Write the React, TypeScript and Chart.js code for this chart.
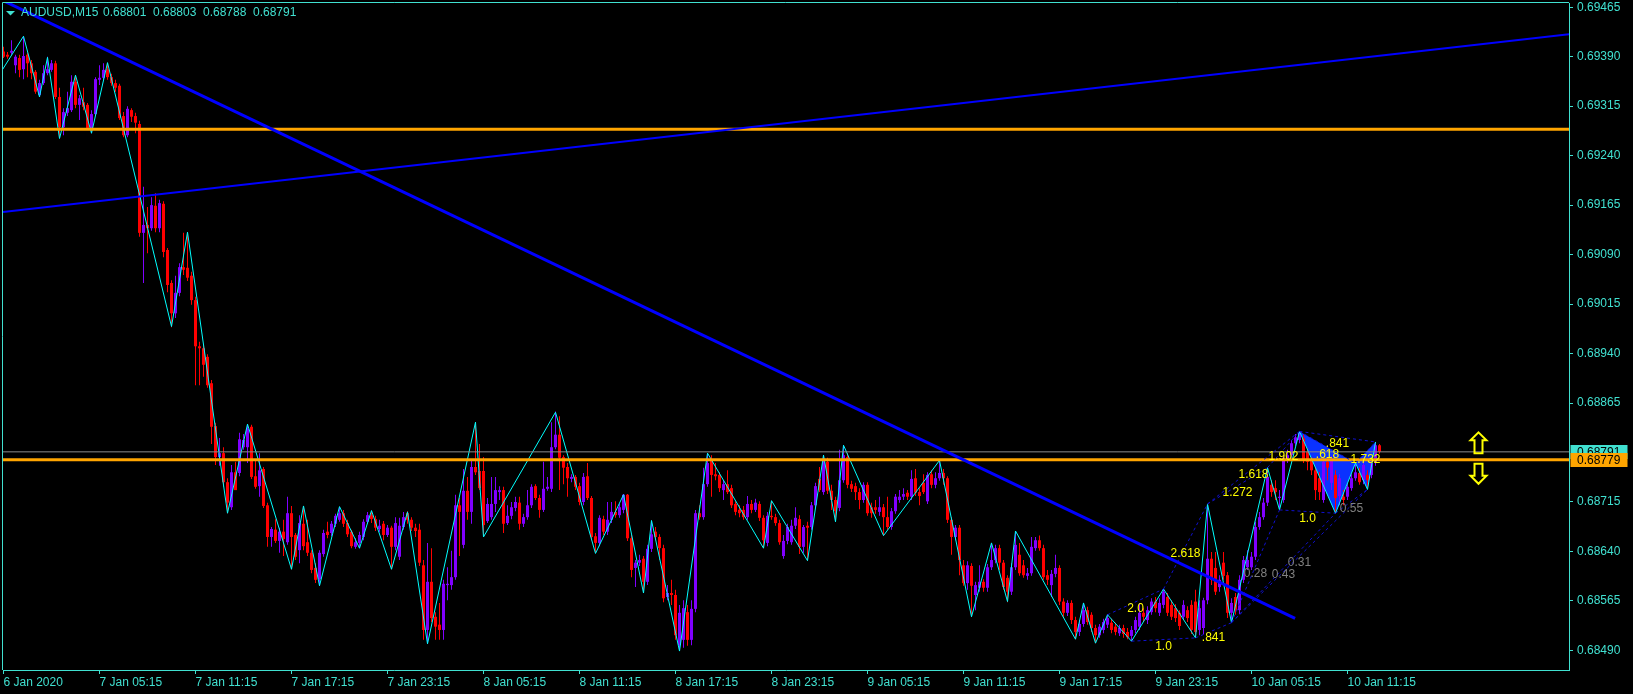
import React, { useEffect, useRef } from 'react';
import { Chart, registerables } from 'chart.js';

Chart.register(...registerables);

// ---------- data (prices in points: value / 100000) ----------
const PRICE_UNIT = 100000;
const symbolLabel = 'AUDUSD,M15';

const openP = [
  69398,69393,69396,69377,69388,69371,69393,69380,69367,69332,
  69350,69365,69370,69380,69329,69283,69305,69309,69352,69317,
  69321,69317,69279,69303,69355,69358,69371,69359,69350,69346,
  69300,69271,69309,69300,69288,69123,69135,69130,69164,69130,
  69167,69097,69047,69001,69032,69071,69070,69058,69021,68951,
  68948,68935,68895,68830,68783,68789,68745,68707,68760,68759,
  68798,68798,68829,68754,68739,68765,68710,68662,68673,68656,
  68670,68654,68698,68665,68642,68682,68654,68638,68615,68598,
  68636,68670,68668,68682,68688,68698,68683,68670,68647,68653,
  68662,68685,68695,68689,68674,68682,68665,68676,68647,68632,
  68677,68698,68688,68676,68673,68619,68521,68594,68541,68529,
  68521,68589,68589,68601,68710,68650,68732,68700,68768,68762,
  68762,68686,68692,68712,68730,68733,68683,68694,68706,68714,
  68682,68692,68710,68739,68721,68703,68735,68735,68798,68817,
  68783,68768,68750,68753,68739,68715,68754,68721,68663,68653,
  68689,68670,68688,68700,68695,68703,68726,68660,68615,68623,
  68629,68594,68644,68670,68662,68645,68571,68577,68574,68498,
  68506,68548,68506,68553,68698,68692,68742,68779,68757,68756,
  68733,68742,68736,68712,68703,68703,68692,68712,68703,68712,
  68691,68653,68694,68692,68683,68633,68656,68654,68679,68689,
  68647,68679,68677,68710,68750,68730,68776,68732,68718,68706,
  68748,68783,68742,68739,68730,68718,68741,68707,68707,68700,
  68707,68692,68677,68701,68718,68723,68729,68723,68751,68730,
  68744,68716,68757,68741,68751,68759,68751,68688,68662,68676,
  68619,68592,68618,68574,68585,68594,68585,68616,68627,68645,
  68623,68600,68579,68616,68635,68619,68603,68607,68645,68657,
  68645,68604,68589,68606,68615,68564,68547,68562,68536,68518,
  68530,68551,68544,68524,68513,68521,68529,68532,68526,68516,
  68524,68518,68512,68521,68526,68547,68536,68548,68564,68547,
  68559,68571,68559,68554,68547,68541,68551,68559,68564,68521,
  68524,68566,68629,68615,68586,68623,68604,68547,68571,68551,
  68597,68616,68616,68632,68677,68692,68714,68741,68736,68721,
  68718,68779,68786,68804,68809,68812,68791,68779,68763,68751,
  68718,68776,68744,68756,68724,68723,68723,68736,68751,68759,
  68748,68756,68756,68774,68801
];
const highP = [
  69405,69397,69415,69393,69393,69421,69396,69385,69370,69355,
  69377,69390,69385,69384,69343,69312,69337,69362,69362,69332,
  69343,69320,69309,69359,69377,69380,69380,69364,69355,69349,
  69306,69315,69312,69305,69293,69193,69162,69177,69183,69173,
  69171,69100,69051,69058,69077,69123,69124,69064,69026,68958,
  68953,68939,68900,68835,68812,68798,68751,68771,68776,68820,
  68818,68833,68832,68779,68789,68768,68714,68677,68689,68676,
  68688,68723,68709,68668,68695,68709,68688,68642,68622,68642,
  68673,68685,68686,68697,68707,68703,68688,68673,68660,68670,
  68689,68700,68701,68694,68688,68686,68680,68679,68692,68691,
  68700,68701,68692,68682,68682,68627,68653,68645,68548,68562,
  68597,68616,68641,68726,68721,68765,68753,68779,68836,68803,
  68783,68721,68753,68753,68739,68738,68710,68715,68723,68723,
  68697,68733,68742,68742,68726,68776,68753,68836,68852,68845,
  68786,68774,68757,68756,68744,68759,68774,68724,68668,68695,
  68694,68715,68715,68716,68712,68727,68727,68665,68627,68635,
  68633,68650,68686,68677,68666,68650,68589,68597,68582,68559,
  68566,68559,68566,68703,68710,68767,68789,68786,68774,68760,
  68748,68763,68741,68716,68710,68709,68724,68718,68720,68716,
  68695,68700,68716,68697,68688,68665,68682,68688,68707,68695,
  68680,68685,68715,68744,68768,68786,68782,68741,68723,68794,
  68801,68789,68747,68744,68736,68745,68745,68714,68718,68723,
  68712,68723,68706,68727,68733,68736,68733,68763,68765,68736,
  68757,68760,68763,68760,68777,68765,68754,68692,68680,68680,
  68627,68625,68622,68594,68619,68598,68621,68653,68650,68650,
  68627,68604,68622,68671,68653,68627,68615,68662,68662,68664,
  68650,68612,68612,68635,68619,68569,68566,68566,68541,68536,
  68562,68556,68548,68529,68530,68538,68545,68538,68532,68529,
  68529,68524,68527,68541,68562,68554,68557,68569,68571,68569,
  68583,68577,68566,68560,68551,68566,68557,68566,68582,68566,
  68570,68712,68639,68639,68604,68639,68609,68569,68577,68604,
  68633,68642,68639,68685,68700,68721,68767,68748,68748,68733,
  68786,68794,68809,68818,68821,68817,68797,68783,68768,68760,
  68782,68782,68785,68763,68757,68733,68744,68757,68774,68767,
  68777,68763,68779,68806,68803
];
const lowP = [
  69388,69387,69393,69365,69359,69356,69359,69356,69334,69329,
  69347,69362,69367,69326,69267,69271,69300,69306,69312,69294,
  69309,69279,69274,69300,69347,69355,69355,69346,69337,69294,
  69268,69268,69291,69274,69117,69047,69092,69126,69124,69124,
  69086,69033,68980,68994,69027,69059,69050,69014,68892,68892,
  68905,68888,68803,68771,68770,68738,68698,68703,68733,68754,
  68794,68774,68750,68735,68723,68706,68647,68647,68653,68638,
  68633,68650,68613,68627,68622,68642,68633,68607,68592,68588,
  68632,68660,68663,68677,68685,68677,68662,68645,68644,68645,
  68657,68682,68683,68671,68670,68657,68662,68613,68642,68627,
  68673,68682,68671,68662,68618,68506,68500,68533,68506,68506,
  68506,68566,68582,68597,68633,68645,68688,68682,68756,68733,
  68662,68683,68688,68700,68718,68668,68680,68689,68701,68673,
  68677,68688,68706,68718,68691,68700,68732,68730,68795,68733,
  68742,68723,68745,68733,68710,68710,68718,68657,68638,68648,
  68665,68665,68683,68691,68691,68698,68656,68601,68586,68618,
  68577,68589,68639,68657,68627,68563,68566,68559,68506,68489,
  68494,68497,68498,68548,68688,68688,68738,68723,68748,68730,
  68718,68727,68706,68695,68692,68688,68688,68698,68700,68686,
  68645,68648,68688,68679,68650,68629,68651,68650,68674,68636,
  68638,68626,68673,68706,68730,68726,68727,68703,68685,68701,
  68744,68736,68730,68718,68704,68714,68694,68691,68697,68694,
  68664,68673,68673,68697,68714,68718,68718,68718,68724,68710,
  68727,68712,68736,68736,68747,68741,68683,68635,68657,68604,
  68588,68582,68541,68551,68579,68579,68579,68612,68622,68612,
  68582,68563,68574,68612,68603,68600,68597,68603,68641,68641,
  68597,68589,68571,68601,68559,68541,68542,68530,68507,68512,
  68526,68529,68518,68501,68509,68516,68524,68516,68513,68512,
  68509,68507,68504,68516,68521,68533,68530,68544,68548,68542,
  68554,68542,68536,68533,68521,68536,68533,68515,68509,68513,
  68515,68560,68589,68574,68579,68597,68539,68532,68544,68545,
  68592,68612,68612,68627,68673,68688,68709,68723,68718,68703,
  68714,68774,68782,68800,68804,68774,68763,68756,68718,68718,
  68714,68748,68733,68698,68710,68710,68718,68732,68747,68741,
  68742,68735,68751,68770,68788
];
const closeP = [
  69390,69390,69399,69390,69370,69391,69380,69365,69337,69350,
  69365,69371,69380,69329,69283,69306,69312,69352,69317,69327,
  69314,69282,69303,69356,69358,69370,69359,69350,69343,69297,
  69271,69311,69299,69290,69123,69135,69130,69165,69130,69168,
  69094,69044,69001,69032,69071,69067,69055,69021,68951,68948,
  68923,68892,68829,68783,68789,68745,68714,68760,68733,68810,
  68809,68826,68753,68738,68763,68709,68662,68674,68656,68670,
  68659,68698,68662,68632,68683,68648,68638,68612,68597,68638,
  68668,68665,68682,68694,68698,68682,68666,68648,68654,68665,
  68685,68695,68689,68676,68679,68665,68676,68647,68683,68679,
  68692,68688,68676,68671,68623,68521,68594,68539,68526,68521,
  68591,68591,68601,68710,68700,68732,68700,68768,68760,68736,
  68680,68712,68712,68733,68733,68682,68694,68707,68715,68682,
  68692,68710,68738,68721,68703,68735,68738,68798,68817,68782,
  68767,68751,68753,68738,68715,68753,68721,68662,68653,68691,
  68670,68688,68700,68695,68707,68726,68660,68612,68623,68627,
  68594,68644,68666,68662,68645,68569,68577,68574,68513,68547,
  68554,68506,68553,68698,68692,68742,68774,68756,68754,68736,
  68742,68730,68710,68700,68698,68692,68712,68703,68714,68691,
  68657,68694,68692,68683,68654,68656,68677,68679,68691,68647,
  68677,68676,68710,68739,68733,68776,68732,68718,68701,68748,
  68786,68741,68735,68730,68718,68741,68698,68698,68703,68707,
  68692,68677,68701,68723,68723,68727,68723,68750,68729,68724,
  68730,68756,68741,68751,68759,68751,68688,68662,68676,68627,
  68592,68619,68588,68589,68594,68585,68616,68627,68645,68623,
  68586,68579,68616,68650,68607,68604,68607,68647,68657,68645,
  68601,68597,68606,68615,68564,68547,68562,68536,68518,68530,
  68551,68533,68524,68513,68526,68533,68539,68521,68518,68524,
  68515,68510,68521,68536,68547,68541,68551,68564,68554,68562,
  68579,68547,68541,68539,68527,68559,68539,68521,68518,68554,
  68566,68629,68597,68579,68597,68603,68547,68562,68551,68597,
  68627,68627,68632,68677,68692,68714,68753,68730,68730,68723,
  68782,68786,68804,68813,68820,68779,68776,68763,68733,68730,
  68776,68767,68779,68721,68751,68718,68738,68751,68760,68745,
  68771,68748,68774,68801,68791
];

// ZigZag pivots (bar index, price in points)
const zzBars = [-3,5,9,11,14,18,22,26,42,46,56,61,72,75,79,84,89,92,97,101,106,118,120,138,148,155,160,162,169,176,190,192,201,205,208,210,220,234,242,247,251,253,268,270,273,276,282,290,298,301,307,316,319,324,333,338,341,343];
const zzPrices = [69344,69421,69329,69389,69266,69362,69274,69381,68981,69124,68698,68833,68613,68709,68588,68708,68645,68702,68613,68700,68500,68836,68662,68851,68637,68726,68577,68687,68489,68789,68645,68717,68626,68786,68685,68801,68664,68778,68541,68653,68564,68671,68507,68562,68501,68544,68504,68583,68509,68712,68532,68767,68703,68822,68698,68774,68734,68806];

// Pattern ratio lines between pivots
const patFrom = [276,282,290,298,301,301,307,307,307,316,319,324,324,333,338];
const patTo = [290,298,301,307,316,324,319,333,341,324,333,338,343,341,343];
const patText = ['2.0','1.0','2.618','.841','1.272','1.618','0.28','0.43','0.31','1.902','1.0','.618','.841','0.55','1.732'];
const patMuted = [false,false,false,false,false,false,true,true,true,false,false,false,false,true,false];
const triangleA = [324,333,338];
const triangleB = [338,341,343];

// Axis ticks
const xTickBars = [0,24,48,72,96,120,144,168,192,216,240,264,288,312,336];
const xTickLabels = ['6 Jan 2020','7 Jan 05:15','7 Jan 11:15','7 Jan 17:15','7 Jan 23:15','8 Jan 05:15','8 Jan 11:15','8 Jan 17:15','8 Jan 23:15','9 Jan 05:15','9 Jan 11:15','9 Jan 17:15','9 Jan 23:15','10 Jan 05:15','10 Jan 11:15'];
const yTickValues = [0.69465,0.6939,0.69315,0.6924,0.69165,0.6909,0.69015,0.6894,0.68865,0.68715,0.6864,0.68565,0.6849];

// Horizontal levels and trend lines
const levelPrices = [0.6928, 0.68779];
const trendDownBars = [-3, 322.9];
const trendDownPrices = [0.694834, 0.685387];
const trendUpBars = [-0.125, 391.375];
const trendUpPrices = [0.691546, 0.69424];
const arrowBar = 368.75;

// Scale ranges
const X_MIN = -0.125;
const X_MAX = 391.375;
const Y_MIN = 0.684603;
const Y_MAX = 0.694714;

// ---------- styles ----------
const TXT = '#40e0d0';
const BULL = '#8000ff';
const BEAR = '#ff0000';
const ZZ = '#00ffff';
const TREND = '#0000ff';
const LEVEL = '#ffa500';
const BID = '#8c8c8c';
const PAT = '#1010d0';
const FILL = 'rgb(10,50,255)';
const YEL = '#ffff00';
const MUTED = '#808080';
const FONT = '"Liberation Sans", Arial, sans-serif';

export default function App() {
  const ref = useRef<HTMLCanvasElement>(null);

  useEffect(() => {
    document.body.style.margin = '0';
    document.body.style.background = '#000';
    const U = PRICE_UNIT;
    const n = openP.length;
    const idx = Array.from({ length: n }, (_, i) => i);
    const colors = idx.map(i => (closeP[i] >= openP[i] ? BULL : BEAR));
    const wicks = idx.map(i => ({ x: i, y: [lowP[i] / U, highP[i] / U] }));
    const bodies = idx.map(i => ({ x: i, y: [Math.min(openP[i], closeP[i]) / U, Math.max(openP[i], closeP[i]) / U] }));
    const zz = zzBars.map((b, k) => ({ x: b, y: zzPrices[k] / U }));
    const bid = closeP[n - 1] / U;
    const pivotPrice = (b: number) => zzPrices[zzBars.indexOf(b)] / U;

    const plugin = {
      id: 'mt4',
      beforeDraw(chart: any) {
        const { ctx, width, height } = chart;
        ctx.save();
        ctx.fillStyle = '#000';
        ctx.fillRect(0, 0, width, height);
        ctx.restore();
      },
      beforeDatasetsDraw(chart: any) {
        const { ctx, chartArea: a, scales } = chart;
        const x = scales.x, y = scales.y;
        ctx.save();
        ctx.beginPath();
        ctx.rect(a.left, a.top, a.right - a.left, a.bottom - a.top);
        ctx.clip();
        ctx.fillStyle = FILL;
        for (const tri of [triangleA, triangleB]) {
          ctx.beginPath();
          tri.forEach((b, k) => {
            const px = x.getPixelForValue(b);
            const py = y.getPixelForValue(pivotPrice(b));
            if (k === 0) ctx.moveTo(px, py); else ctx.lineTo(px, py);
          });
          ctx.closePath();
          ctx.fill();
        }
        ctx.restore();
      },
      afterDatasetsDraw(chart: any) {
        const { ctx, chartArea: a, scales } = chart;
        const x = scales.x, y = scales.y;
        ctx.save();
        ctx.beginPath();
        ctx.rect(a.left, a.top, a.right - a.left, a.bottom - a.top);
        ctx.clip();
        ctx.strokeStyle = PAT;
        ctx.lineWidth = 1;
        ctx.setLineDash([3, 3]);
        const mids: number[][] = [];
        patFrom.forEach((f, k) => {
          const t = patTo[k];
          const x1 = x.getPixelForValue(f), y1 = y.getPixelForValue(pivotPrice(f));
          const x2 = x.getPixelForValue(t), y2 = y.getPixelForValue(pivotPrice(t));
          ctx.beginPath();
          ctx.moveTo(x1, y1);
          ctx.lineTo(x2, y2);
          ctx.stroke();
          mids.push([(x1 + x2) / 2, (y1 + y2) / 2]);
        });
        ctx.setLineDash([]);
        ctx.font = '12px ' + FONT;
        ctx.textAlign = 'center';
        ctx.textBaseline = 'top';
        patText.forEach((txt, k) => {
          ctx.fillStyle = patMuted[k] ? MUTED : YEL;
          ctx.fillText(txt, mids[k][0], mids[k][1] + 1);
        });
        ctx.restore();
      },
      afterDraw(chart: any) {
        const { ctx, chartArea: a, scales } = chart;
        const x = scales.x, y = scales.y;
        ctx.save();
        // frame (left + top)
        ctx.strokeStyle = TXT;
        ctx.lineWidth = 1;
        ctx.beginPath();
        ctx.moveTo(2.5, a.bottom);
        ctx.lineTo(2.5, 2.5);
        ctx.lineTo(a.right, 2.5);
        ctx.stroke();
        // title
        ctx.fillStyle = TXT;
        ctx.beginPath();
        ctx.moveTo(6, 11);
        ctx.lineTo(15, 11);
        ctx.lineTo(10.5, 15.5);
        ctx.closePath();
        ctx.fill();
        ctx.font = '12px ' + FONT;
        ctx.textAlign = 'left';
        ctx.textBaseline = 'middle';
        const last = n - 1;
        const parts = [symbolLabel, (openP[last] / U).toFixed(5), (highP[last] / U).toFixed(5), (lowP[last] / U).toFixed(5), (closeP[last] / U).toFixed(5)];
        const partX = [21, 103, 153, 203, 253];
        parts.forEach((p, k) => ctx.fillText(p, partX[k], 12.5));
        // arrows
        const ax = x.getPixelForValue(arrowBar);
        const yBid = y.getPixelForValue(bid);
        const yLvl = y.getPixelForValue(levelPrices[1]);
        ctx.strokeStyle = YEL;
        ctx.lineWidth = 2;
        const ub = yBid + 1.5;
        ctx.beginPath();
        ctx.moveTo(ax, ub - 21);
        ctx.lineTo(ax + 8, ub - 13);
        ctx.lineTo(ax + 4, ub - 13);
        ctx.lineTo(ax + 4, ub);
        ctx.lineTo(ax - 4, ub);
        ctx.lineTo(ax - 4, ub - 13);
        ctx.lineTo(ax - 8, ub - 13);
        ctx.closePath();
        ctx.stroke();
        const dt = yLvl + 4;
        ctx.beginPath();
        ctx.moveTo(ax - 4, dt);
        ctx.lineTo(ax + 4, dt);
        ctx.lineTo(ax + 4, dt + 12);
        ctx.lineTo(ax + 8, dt + 12);
        ctx.lineTo(ax, dt + 20);
        ctx.lineTo(ax - 8, dt + 12);
        ctx.lineTo(ax - 4, dt + 12);
        ctx.closePath();
        ctx.stroke();
        // price boxes
        const box = (price: number, bg: string) => {
          const py = y.getPixelForValue(price);
          ctx.fillStyle = bg;
          ctx.fillRect(a.right + 1.5, Math.round(py - 7), 57, 14);
          ctx.fillStyle = '#000';
          ctx.textBaseline = 'middle';
          ctx.fillText(price.toFixed(5), a.right + 8, Math.round(py) + 0.5);
        };
        box(bid, TXT);
        box(levelPrices[1], LEVEL);
        ctx.restore();
      }
    };

    const lineDs = (data: any[], color: string, width: number, order: number) => ({
      type: 'line' as const,
      data,
      borderColor: color,
      borderWidth: width,
      pointRadius: 0,
      tension: 0,
      fill: false,
      clip: 0,
      order
    });

    const chart = new Chart(ref.current as HTMLCanvasElement, {
      type: 'bar',
      data: {
        datasets: [
          { type: 'bar', data: wicks as any, backgroundColor: colors, barThickness: 1, grouped: false, minBarLength: 1, inflateAmount: 0, borderWidth: 0, order: 10 } as any,
          { type: 'bar', data: bodies as any, backgroundColor: colors, barThickness: 3, grouped: false, minBarLength: 1, inflateAmount: 0, borderWidth: 0, order: 9 } as any,
          lineDs(zz, ZZ, 1, 8),
          lineDs([{ x: X_MIN, y: bid }, { x: X_MAX, y: bid }], BID, 1, 7),
          lineDs([{ x: X_MIN, y: levelPrices[0] }, { x: X_MAX, y: levelPrices[0] }], LEVEL, 3, 6),
          lineDs([{ x: X_MIN, y: levelPrices[1] }, { x: X_MAX, y: levelPrices[1] }], LEVEL, 3, 6),
          lineDs(trendUpBars.map((b, k) => ({ x: b, y: trendUpPrices[k] })), TREND, 2, 5),
          lineDs(trendDownBars.map((b, k) => ({ x: b, y: trendDownPrices[k] })), TREND, 3, 4)
        ]
      },
      options: {
        responsive: false,
        animation: false,
        events: [],
        layout: { padding: { left: 3, top: 3, right: 0, bottom: 0 } },
        plugins: { legend: { display: false }, tooltip: { enabled: false } },
        scales: {
          x: {
            type: 'linear',
            min: X_MIN,
            max: X_MAX,
            bounds: 'data',
            offset: false,
            grid: { display: true, offset: false, drawOnChartArea: false, drawTicks: true, tickLength: 4, color: TXT },
            border: { display: true, color: TXT, width: 1 },
            afterBuildTicks: (s: any) => { s.ticks = xTickBars.map(v => ({ value: v })); },
            afterFit: (s: any) => { s.height = 24; s.paddingLeft = 0; s.paddingRight = 0; },
            ticks: {
              color: TXT,
              font: { family: FONT, size: 12 },
              align: 'start',
              maxRotation: 0,
              minRotation: 0,
              autoSkip: false,
              padding: 1,
              callback: (v: any) => { const k = xTickBars.indexOf(Number(v)); return k >= 0 ? xTickLabels[k] : ''; }
            }
          } as any,
          y: {
            type: 'linear',
            position: 'right',
            min: Y_MIN,
            max: Y_MAX,
            bounds: 'data',
            beginAtZero: false,
            grid: { display: true, drawOnChartArea: false, drawTicks: true, tickLength: 4, color: TXT },
            border: { display: true, color: TXT, width: 1 },
            afterBuildTicks: (s: any) => { s.ticks = yTickValues.map(v => ({ value: v })); },
            afterFit: (s: any) => { s.width = 64; s.paddingTop = 0; s.paddingBottom = 0; },
            ticks: {
              color: TXT,
              font: { family: FONT, size: 12 },
              padding: 4,
              crossAlign: 'near',
              autoSkip: false,
              callback: (v: any) => Number(v).toFixed(5)
            }
          } as any
        }
      },
      plugins: [plugin]
    } as any);

    return () => chart.destroy();
  }, []);

  return (
    <div style={{ position: 'fixed', left: 0, top: 0, width: 1633, height: 694, background: '#000' }}>
      <canvas ref={ref} width={1633} height={694} style={{ display: 'block', width: 1633, height: 694 }} />
    </div>
  );
}
